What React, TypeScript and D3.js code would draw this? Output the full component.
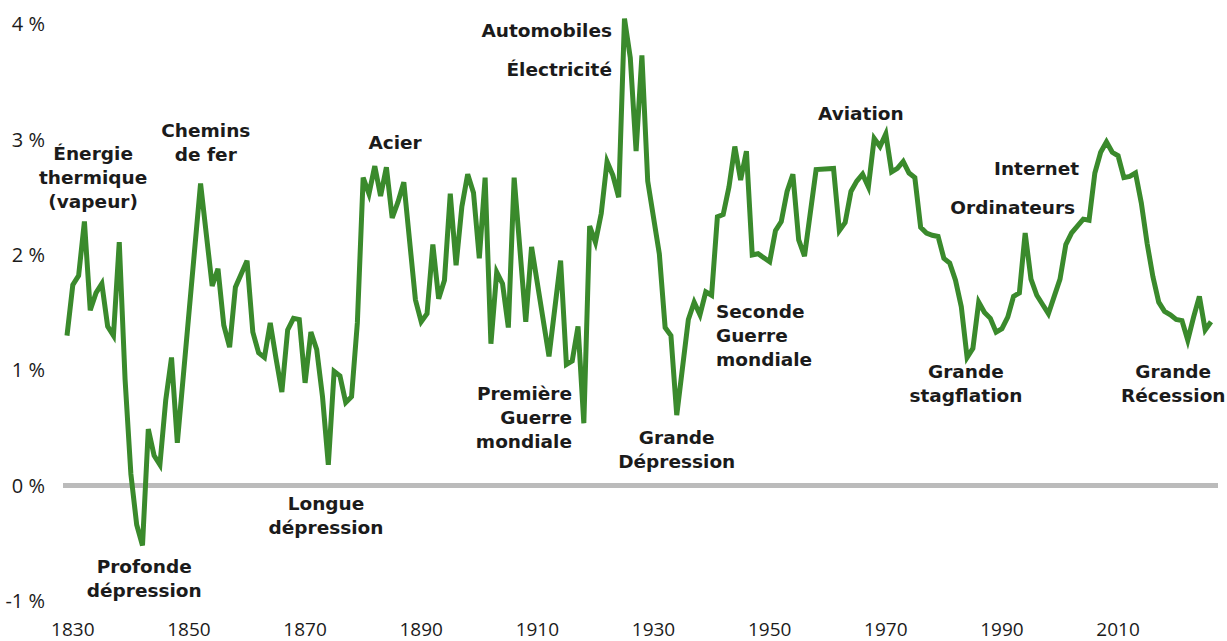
import React from 'react';
import * as d3 from 'd3';

// productivity growth (vertices of the line)
const years = [
  1829, 1830, 1831, 1832, 1833, 1834, 1835, 1836, 1837, 1838, 1839, 1840, 1841, 1842, 1843, 1844, 1845, 1846, 1847, 1848,
  1852, 1854, 1855, 1856, 1857, 1858, 1860, 1861, 1862, 1863, 1864, 1865, 1866, 1867, 1868, 1869, 1870, 1871, 1872, 1873,
  1874, 1875, 1876, 1877, 1878, 1879, 1880, 1881, 1882, 1883, 1884, 1885, 1886, 1887, 1889, 1890, 1891, 1892, 1893, 1894,
  1895, 1896, 1897, 1898, 1899, 1900, 1901, 1902, 1903, 1904, 1905, 1906, 1908, 1909, 1912, 1914, 1915, 1916, 1917, 1918,
  1919, 1920, 1921, 1922, 1923, 1924, 1925, 1926, 1927, 1928, 1929, 1931, 1932, 1933, 1934, 1936, 1937, 1938, 1939, 1940,
  1941, 1942, 1943, 1944, 1945, 1946, 1947, 1948, 1950, 1951, 1952, 1953, 1954, 1955, 1956, 1958, 1961, 1962, 1963, 1964,
  1965, 1966, 1967, 1968, 1969, 1970, 1971, 1972, 1973, 1974, 1975, 1976, 1977, 1978, 1979, 1980, 1981, 1982, 1983, 1984,
  1985, 1986, 1987, 1988, 1989, 1990, 1991, 1992, 1993, 1994, 1995, 1996, 1997, 1998, 1999, 2000, 2001, 2002, 2004, 2005,
  2006, 2007, 2008, 2009, 2010, 2011, 2012, 2013, 2014, 2015, 2016, 2017, 2018, 2019, 2020, 2021, 2022, 2023, 2024, 2025,
  2026,
];

const growth = [
  1.30, 1.74, 1.82, 2.29, 1.52, 1.67, 1.75, 1.38, 1.30, 2.11, 0.92, 0.10, -0.34, -0.52, 0.49, 0.26, 0.18, 0.74, 1.11, 0.37,
  2.62, 1.73, 1.88, 1.39, 1.20, 1.72, 1.95, 1.33, 1.15, 1.11, 1.41, 1.10, 0.81, 1.35, 1.45, 1.44, 0.89, 1.33, 1.18, 0.77,
  0.18, 0.99, 0.95, 0.72, 0.77, 1.41, 2.67, 2.53, 2.77, 2.51, 2.76, 2.32, 2.46, 2.63, 1.61, 1.42, 1.49, 2.09, 1.62, 1.78,
  2.53, 1.91, 2.42, 2.70, 2.54, 1.97, 2.67, 1.23, 1.85, 1.75, 1.37, 2.67, 1.42, 2.07, 1.12, 1.95, 1.05, 1.08, 1.38, 0.54,
  2.25, 2.11, 2.36, 2.81, 2.69, 2.50, 4.05, 3.71, 2.90, 3.73, 2.64, 2.01, 1.37, 1.30, 0.61, 1.44, 1.59, 1.48, 1.68, 1.65,
  2.33, 2.35, 2.59, 2.94, 2.65, 2.90, 2.00, 2.01, 1.94, 2.21, 2.29, 2.55, 2.70, 2.13, 1.99, 2.74, 2.75, 2.21, 2.28, 2.55,
  2.64, 2.70, 2.59, 3.01, 2.94, 3.05, 2.72, 2.75, 2.81, 2.71, 2.67, 2.24, 2.19, 2.17, 2.16, 1.97, 1.93, 1.78, 1.55, 1.11,
  1.19, 1.59, 1.50, 1.45, 1.33, 1.36, 1.46, 1.64, 1.67, 2.19, 1.79, 1.65, 1.57, 1.49, 1.64, 1.79, 2.09, 2.19, 2.31, 2.30,
  2.71, 2.89, 2.98, 2.89, 2.86, 2.67, 2.68, 2.71, 2.45, 2.10, 1.81, 1.59, 1.51, 1.48, 1.44, 1.43, 1.26, 1.46, 1.64, 1.35,
  1.42,
];

const yTicks = [-1, 0, 1, 2, 3, 4];
const xTicks = [1830, 1850, 1870, 1890, 1910, 1930, 1950, 1970, 1990, 2010];

// labels, anchored in data units (year, value of the first line)
const annotations = [
  { lines: ['Énergie', 'thermique', '(vapeur)'], year: 1833.5, value: 2.875, anchor: 'middle' },
  { lines: ['Chemins', 'de fer'], year: 1852.9, value: 3.078, anchor: 'middle' },
  { lines: ['Acier'], year: 1885.5, value: 2.975, anchor: 'middle' },
  { lines: ['Automobiles'], year: 1922.85, value: 3.95, anchor: 'end' },
  { lines: ['Électricité'], year: 1922.85, value: 3.604, anchor: 'end' },
  { lines: ['Profonde', 'dépression'], year: 1842.3, value: -0.707, anchor: 'middle' },
  { lines: ['Longue', 'dépression'], year: 1873.6, value: -0.152, anchor: 'middle' },
  { lines: ['Première', 'Guerre', 'mondiale'], year: 1915.96, value: 0.794, anchor: 'end' },
  { lines: ['Grande', 'Dépression'], year: 1934.0, value: 0.412, anchor: 'middle' },
  { lines: ['Seconde', 'Guerre', 'mondiale'], year: 1940.76, value: 1.513, anchor: 'start' },
  { lines: ['Aviation'], year: 1965.7, value: 3.226, anchor: 'middle' },
  { lines: ['Internet'], year: 2003.3, value: 2.749, anchor: 'end' },
  { lines: ['Ordinateurs'], year: 2002.6, value: 2.415, anchor: 'end' },
  { lines: ['Grande', 'stagflation'], year: 1983.8, value: 0.99, anchor: 'middle' },
  { lines: ['Grande', 'Récession'], year: 2019.5, value: 0.99, anchor: 'middle' },
];

const W = 1227;
const H = 641;
const GREEN = '#3a8a2c';
const INK = '#1b1b1b';

export default function App() {
  const x = d3.scaleLinear().domain([1829, 2026]).range([67, 1211]);
  const y = d3.scaleLinear().domain([-1, 4]).range([600.8, 24.3]);

  const points: [number, number][] = years.map((yr, i) => [yr, growth[i]]);
  const line = d3
    .line<[number, number]>()
    .x((d) => x(d[0]))
    .y((d) => y(d[1]));

  const fmt = (v: number) => `${v} %`;

  return (
    <svg
      width={W}
      height={H}
      style={{ position: 'absolute', left: 0, top: 0, background: '#fff' }}
    >
      {/* zero line */}
      <line
        x1={x(years[0]) - 4}
        x2={x(years[years.length - 1]) + 7}
        y1={y(0)}
        y2={y(0)}
        stroke="#bbbbbb"
        strokeWidth={5}
      />

      <path d={line(points) ?? ''} fill="none" stroke={GREEN} strokeWidth={5} strokeLinejoin="miter" />

      {/* axis labels */}
      <g fontFamily="'Open Sans', sans-serif" fill={INK}>
        {yTicks.map((t) => (
          <text key={t} x={45} y={y(t)} dy="0.35em" textAnchor="end" fontSize={20}>
            {fmt(t)}
          </text>
        ))}
        {xTicks.map((t) => (
          <text key={t} x={x(t)} y={636} textAnchor="middle" fontSize={19}>
            {t}
          </text>
        ))}
      </g>

      {/* annotations */}
      <g fontFamily="'DejaVu Sans', sans-serif" fontWeight="bold" fontSize={18.5} fill={INK}>
        {annotations.map((a) => (
          <text key={a.lines.join(' ')} textAnchor={a.anchor}>
            {a.lines.map((l, i) => (
              <tspan key={i} x={x(a.year)} y={y(a.value) + i * 24} dy="0.35em">
                {l}
              </tspan>
            ))}
          </text>
        ))}
      </g>
    </svg>
  );
}
